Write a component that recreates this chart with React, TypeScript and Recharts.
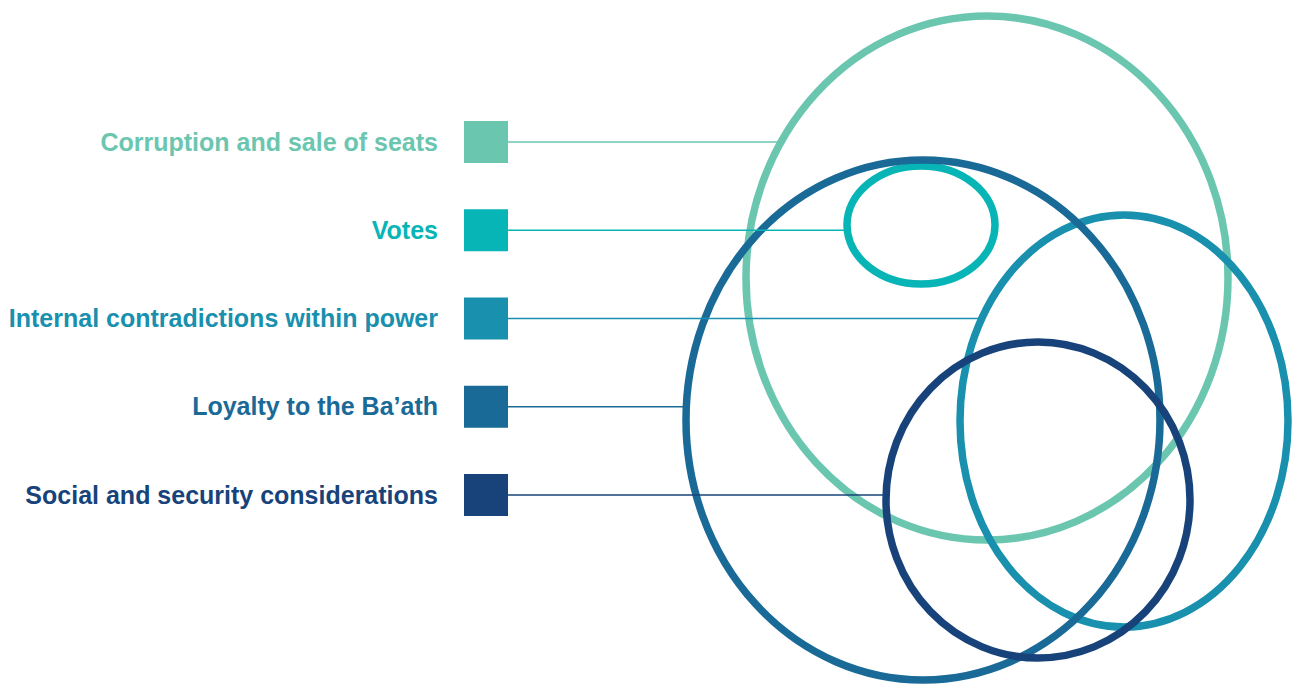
import React from "react";
import { ScatterChart, Scatter, XAxis, YAxis } from "recharts";

const factors = [
  "Corruption and sale of seats",
  "Votes",
  "Internal contradictions within power",
  "Loyalty to the Ba’ath",
  "Social and security considerations",
];
const colors = ["#6bc6b0", "#08b5b6", "#1890ae", "#1a6a98", "#17437a"];

// ellipse geometry, in diagram units
const centerX = [987, 921, 1124, 923, 1038];
const centerY = [278, 225, 421, 420, 500];
const radiusX = [241, 74, 164, 237, 152];
const radiusY = [262, 59, 206, 260, 158];

const WIDTH = 1295;
const HEIGHT = 684;
const X_DOMAIN: [number, number] = [0, 1295];
const Y_DOMAIN: [number, number] = [0, 684];
const KX = WIDTH / (X_DOMAIN[1] - X_DOMAIN[0]);
const KY = HEIGHT / (Y_DOMAIN[1] - Y_DOMAIN[0]);

// legend layout
const LEGEND_X = 486;
const LEGEND_TOP = 142;
const LEGEND_STEP = 88.25;

const ellipseData = factors.map((name, i) => ({
  name,
  x: centerX[i],
  y: centerY[i],
  rx: radiusX[i],
  ry: radiusY[i],
  color: colors[i],
}));

const legendData = factors.map((name, i) => ({
  name,
  idx: i,
  x: LEGEND_X,
  y: LEGEND_TOP + i * LEGEND_STEP,
}));

const EllipseShape = (props: any) => {
  const { cx, cy, payload } = props;
  if (cx == null || cy == null) return null;
  return (
    <ellipse
      cx={cx}
      cy={cy}
      rx={payload.rx * KX}
      ry={payload.ry * KY}
      fill="none"
      stroke={payload.color}
      strokeWidth={7.5}
    />
  );
};

const LegendShape = (props: any) => {
  const { cx, cy, payload } = props;
  if (cx == null || cy == null) return null;
  const i = payload.idx;
  const dy = (payload.y - centerY[i]) / radiusY[i];
  const edge = centerX[i] - radiusX[i] * Math.sqrt(Math.max(0, 1 - dy * dy));
  const edgePx = cx + (edge - payload.x) * KX - 3;
  return (
    <g>
      <line
        x1={cx + 22}
        y1={cy}
        x2={edgePx}
        y2={cy}
        stroke={colors[i]}
        strokeWidth={1.4}
      />
      <rect x={cx - 22} y={cy - 21} width={44} height={42} fill={colors[i]} />
      <text
        x={cx - 48}
        y={cy + 8.5}
        textAnchor="end"
        fill={colors[i]}
        fontSize={25}
        fontWeight="bold"
        fontFamily="'Liberation Sans', Arial, sans-serif"
      >
        {payload.name}
      </text>
    </g>
  );
};

export default function App() {
  return (
    <div style={{ position: "absolute", top: 0, left: 0, background: "#fff" }}>
      <ScatterChart
        width={WIDTH}
        height={HEIGHT}
        margin={{ top: 0, right: 0, bottom: 0, left: 0 }}
      >
        <XAxis type="number" dataKey="x" domain={X_DOMAIN} hide />
        <YAxis type="number" dataKey="y" domain={Y_DOMAIN} reversed hide />
        <Scatter
          data={ellipseData}
          shape={EllipseShape}
          isAnimationActive={false}
        />
        <Scatter
          data={legendData}
          shape={LegendShape}
          isAnimationActive={false}
        />
      </ScatterChart>
    </div>
  );
}
